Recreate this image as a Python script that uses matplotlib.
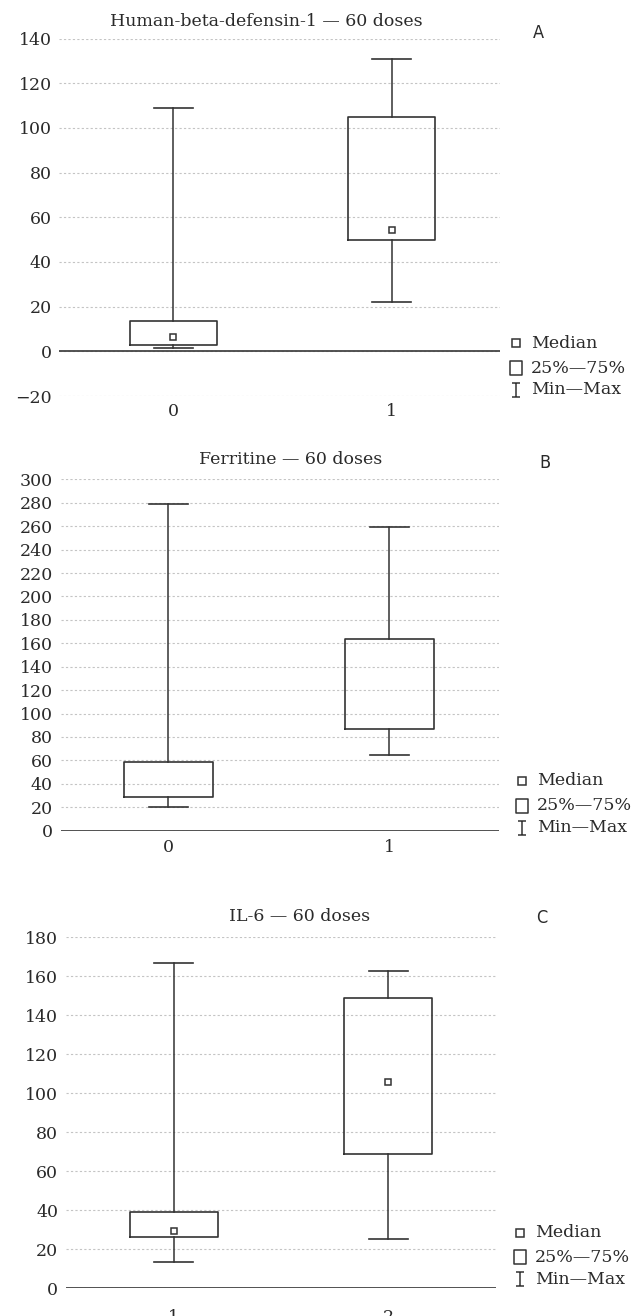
import matplotlib
matplotlib.use("Agg")
import matplotlib.pyplot as plt
from matplotlib.lines import Line2D
from matplotlib.path import Path

# ---- data ----
hbd_labels = ["0", "1"]
hbd_min = [1.5, 22]
hbd_q1 = [2.7, 50]
hbd_med = [6.3, 54.5]
hbd_q3 = [13.5, 105]
hbd_max = [108.8, 131]

fer_labels = ["0", "1"]
fer_min = [20.5, 65]
fer_q1 = [29, 87]
fer_q3 = [59, 163.5]
fer_max = [279, 259.5]

il6_labels = ["1", "2"]
il6_min = [13.3, 25.5]
il6_q1 = [26.2, 69]
il6_med = [29.6, 106]
il6_q3 = [39, 149]
il6_max = [167, 162.5]

W, H = 633, 1316
TXT = "#2a2a2a"
LINE = "#333333"
SERIF = "DejaVu Serif"
FS = 12.5

plt.rcParams["font.family"] = SERIF
plt.rcParams["text.color"] = TXT

fig = plt.figure(figsize=(W / 100, H / 100), dpi=100)


def px_axes(l, r, t, b):
    return fig.add_axes([l / W, 1 - b / H, (r - l) / W, (b - t) / H])


def panel(ax, labels, lo, q1, med, q3, hi, ylim, yticks, xlim, xpad, width):
    pos = list(range(len(labels)))
    stats = []
    for i in pos:
        stats.append(dict(whislo=lo[i], q1=q1[i], med=q3[i], q3=q3[i],
                          whishi=hi[i], fliers=[]))
    ax.bxp(stats, positions=pos, widths=width, capwidths=0.18,
           showfliers=False,
           boxprops=dict(color=LINE, lw=1.2),
           whiskerprops=dict(color=LINE, lw=1.1),
           capprops=dict(color=LINE, lw=1.2),
           medianprops=dict(visible=False))
    if med is not None:
        ax.plot(pos, med, ls="none", marker="s", ms=5, mfc="white",
                mec=LINE, mew=1.1, zorder=4)
    ax.axhline(0, color="#444444", lw=1.3, zorder=3)
    ax.set_ylim(*ylim)
    ax.set_xlim(*xlim)
    ax.set_yticks(yticks)
    ax.set_xticks(pos)
    ax.set_xticklabels(labels)
    ax.yaxis.grid(True, linestyle=(0, (2, 2)), color="#c4c4c4", lw=0.8)
    ax.set_axisbelow(True)
    for s in ax.spines.values():
        s.set_visible(False)
    ax.tick_params(axis="y", length=0, pad=5.5, labelsize=FS, labelcolor=TXT)
    ax.tick_params(axis="x", length=0, pad=xpad, labelsize=FS, labelcolor=TXT)
    ax.set_yticklabels([str(t).replace("-", "\u2212") for t in yticks])


# legend markers
minmax_mk = Path([(-0.58, -1), (0.58, -1), (0, -1), (0, 1), (-0.58, 1), (0.58, 1)],
                 [Path.MOVETO, Path.LINETO, Path.MOVETO, Path.LINETO,
                  Path.MOVETO, Path.LINETO])
box_mk = Path([(-0.88, -1), (0.88, -1), (0.88, 1), (-0.88, 1), (-0.88, -1)],
              [Path.MOVETO, Path.LINETO, Path.LINETO, Path.LINETO, Path.CLOSEPOLY])


def legend(mx, tx, ys):
    items = [("s", 5.5, "Median"), (box_mk, 10, "25%\u201475%"),
             (minmax_mk, 9.5, "Min\u2014Max")]
    for (mk, ms, lab), y in zip(items, ys):
        fig.add_artist(Line2D([mx / W], [1 - y / H], marker=mk, ms=ms,
                              mfc="none", mec=LINE, mew=1.1, ls="none",
                              transform=fig.transFigure))
        fig.text(tx / W, 1 - y / H, lab, fontsize=FS, va="center",
                 ha="left", color=TXT)


def title(x, y, s, letter, lx, ly):
    fig.text(x / W, 1 - y / H, s, fontsize=FS, ha="center", va="baseline",
             color=TXT)
    fig.text(lx / W, 1 - ly / H, letter, fontsize=13, ha="center",
             va="baseline", color=TXT, family="DejaVu Sans",
             fontstretch="condensed")


# panel A
axA = px_axes(59.3, 499.5, 38.6, 396)
panel(axA, hbd_labels, hbd_min, hbd_q1, hbd_med, hbd_q3, hbd_max,
      (-20, 140), list(range(-20, 141, 20)), (-0.523, 1.495), 5, 0.4)
title(266.5, 26, "Human-beta-defensin-1 \u2014 60 doses", "A", 538, 38.3)
legend(515.6, 531, [343.3, 368.3, 390])

# panel B
axB = px_axes(60.6, 498.6, 479.3, 830.7)
panel(axB, fer_labels, fer_min, fer_q1, None, fer_q3, fer_max,
      (0, 300), list(range(0, 301, 20)), (-0.488, 1.494), 6, 0.4)
title(290.7, 464, "Ferritine \u2014 60 doses", "B", 545, 468.3)
legend(522, 537, [780.7, 805.7, 828])

# panel C
axC = px_axes(65.8, 495.8, 937.3, 1288.3)
panel(axC, il6_labels, il6_min, il6_q1, il6_med, il6_q3, il6_max,
      (0, 180), list(range(0, 181, 20)), (-0.502, 1.5), 15, 0.41)
title(299.5, 920.7, "IL-6 \u2014 60 doses", "C", 542, 923.3)
legend(520, 535, [1232.7, 1257.3, 1279.3])

fig.savefig("out.png", dpi=100)
